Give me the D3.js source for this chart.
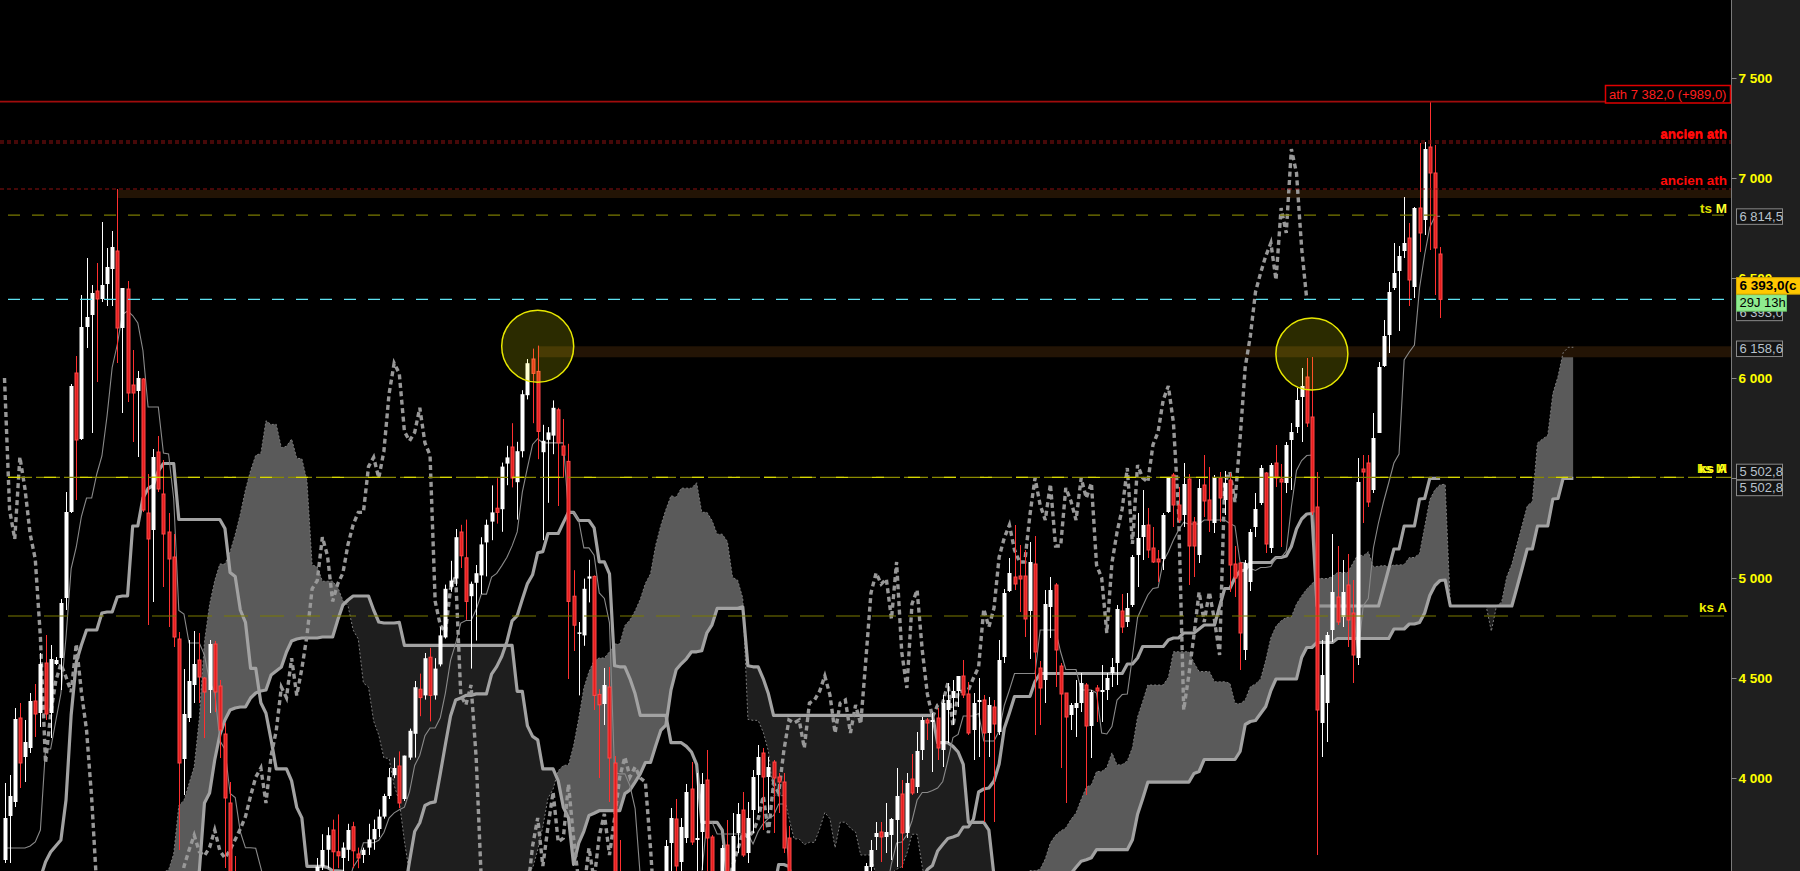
<!DOCTYPE html>
<html><head><meta charset="utf-8">
<script src="https://cdnjs.cloudflare.com/ajax/libs/d3/7.8.5/d3.min.js"></script>
<style>html,body{margin:0;padding:0;background:#000;overflow:hidden}svg{display:block}</style>
</head><body><svg id="c" width="1800" height="871"></svg>
<script>
// ---- DATA (monthly candles) ----
const opens=[3590,3810,3880,4300,4105,4150,4385,4325,4575,4325,
4570,4600,4900,5330,6025,5695,6255,6315,6435,6395,
6470,6545,6635,6250,6445,5965,5935,5995,5325,5240,
5630,5420,5230,5105,4695,4095,4300,4465,4590,4500,
4440,4670,4460,4220,3875,3450,3320,2780,3040,3270,
3060,2940,2900,2825,3045,2990,3085,3250,3310,3130,
3380,3390,3557,3641,3740,3631,3600,3641,3756,3620,
3615,3652,3693,3745,3807,3910,4014,4060,3895,4102,
4221,4444,4413,4604,4413,4568,4703,4956,4997,5230,
5101,4909,4976,5013,5178,5282,5349,5344,5572,5655,
5479,5634,5914,6095,6033,5629,5691,5712,5841,5660,
5583,4909,4723,4713,4997,5008,4418,4370,4455,4075,
3487,3262,3218,2962,2808,2807,3159,3278,3140,3430,
3675,3795,3580,3700,3945,3690,3730,3990,3705,3480,
3440,3665,3490,3725,3840,3625,3840,4015,4125,4005,
4080,4005,3980,3700,3256,2981,3242,3155,3160,3298,
3452,3424,3213,3017,3197,3291,3413,3355,3429,3555,
3705,3730,3705,3715,3790,3920,3725,3995,3955,4140,
4290,4280,4300,4140,4340,4400,4435,4510,4420,4240,
4380,4390,4225,4355,4230,4605,4935,5005,5010,5010,
4835,5070,4550,4490,4855,4965,4560,4425,4315,4350,
4375,4465,4260,4450,4430,4440,4525,4575,4835,4780,
4865,5115,5205,5265,5150,5095,5095,5330,5515,5365,
5315,5495,5280,5115,5465,5390,5275,5500,5390,5490,
5070,5075,4640,4980,5255,5375,5525,5150,5575,5495,
5475,5690,5755,5905,6005,5805,5355,4275,4375,4740,
4905,4805,4965,4825,4600,5545,5575,5440,5725,6060,
6215,6450,6535,6635,6700,6455,6850,6790,7155,7025,6620];
const highs=[3975,4015,4350,4375,4290,4425,4470,4625,4715,4665,
4605,4895,5430,5970,6110,6415,6600,6465,6575,6780,
6650,6735,6945,6450,6485,6140,6035,6000,5520,5645,
5710,5590,5325,5220,4730,4545,4690,4735,4725,4505,
4690,4685,4490,4275,3980,3610,3400,3150,3400,3300,
3250,3000,2940,3100,3120,3250,3270,3400,3470,3420,
3480,3600,3719,3754,3792,3818,3678,3771,3781,3652,
3652,3771,3792,3843,3921,4050,4102,4133,4112,4247,
4485,4522,4625,4651,4599,4754,4967,5086,5245,5266,
5292,4982,5065,5204,5292,5463,5499,5577,5661,5774,
5681,5939,6095,6147,6162,5766,5755,5888,5851,5795,
5671,5039,4780,4997,5091,5013,4444,4550,4555,4110,
3690,3400,3300,3100,2950,3200,3380,3400,3460,3690,
3850,3895,3800,3970,4080,4025,4025,4140,3715,3530,
3665,3790,3825,3875,3930,3880,4040,4165,4150,4105,
4090,4025,4025,3760,3300,3400,3280,3240,3380,3500,
3520,3450,3260,3230,3330,3470,3520,3510,3575,3690,
3780,3780,3875,3800,4050,3990,4025,4120,4230,4305,
4300,4325,4350,4415,4475,4490,4510,4590,4480,4425,
4500,4415,4405,4390,4690,4945,5100,5265,5165,5140,
5180,5210,4585,4940,5005,4975,4575,4425,4375,4490,
4525,4475,4440,4465,4565,4525,4600,4865,4920,4925,
5115,5325,5440,5350,5255,5140,5325,5505,5525,5455,
5575,5520,5305,5495,5615,5555,5515,5530,5535,5525,
5160,5080,5090,5245,5425,5565,5530,5575,5665,5570,
5680,5775,5950,6050,6100,6105,5530,4690,4730,5220,
5160,5090,5120,4990,5600,5615,5615,5825,6080,6290,
6480,6675,6660,6905,6775,6855,7175,7180,7382,7165,6655];
const lows=[3575,3575,3855,3950,3980,4125,4205,4255,4290,4200,
4565,4440,4840,5325,5390,5690,6150,5725,5980,6380,
6360,6360,6075,5825,5880,5680,5605,5330,4765,4880,
5430,4955,4755,4655,3640,3915,4280,4375,4375,4200,
4325,4330,4100,3550,3110,3070,2735,2612,2950,2980,
2890,2640,2381,2720,2920,2980,3030,3150,3100,3110,
3290,3370,3540,3549,3534,3549,3534,3585,3549,3549,
3575,3615,3641,3704,3797,3895,3999,3849,3885,4091,
4102,4309,4392,4283,4392,4558,4697,4931,4961,5050,
4791,4547,4687,4920,5008,5189,5272,5231,5464,5453,
5292,5603,5893,5774,5594,5189,5376,5619,5360,5500,
4495,4635,4413,4661,4878,4340,4000,4265,3880,2960,
2950,2990,2830,2680,2465,2700,3100,3040,2970,3420,
3530,3500,3500,3675,3665,3450,3540,3450,3420,3300,
3380,3430,3460,3625,3605,3575,3725,3825,3740,3825,
3725,3825,3625,2950,2693,2780,2800,2930,3090,3280,
3380,3150,2950,2920,3000,3270,3300,3310,3380,3450,
3640,3580,3625,3590,3555,3550,3700,3915,3925,4090,
4190,4030,4090,4055,4175,4265,4355,4400,4215,4090,
4105,3780,4105,3780,4215,4575,4930,4940,4830,4705,
4595,4215,4265,4375,4700,4455,4050,3875,4240,4205,
4330,3915,4100,4280,4280,4390,4455,4465,4725,4755,
4855,4955,5090,5100,5075,4980,5040,5325,5255,5275,
5255,4965,5005,5075,5305,5230,5225,5280,5315,4930,
4905,4540,4590,4935,5205,5365,5125,5125,5455,5155,
5425,5440,5725,5680,5755,5315,3615,4105,4180,4680,
4765,4755,4655,4475,4565,5275,5355,5425,5725,6055,
6125,6440,6235,6600,6360,6400,6630,6715,6640,6415,6300];
const closes=[3800,3910,4295,4075,4180,4385,4320,4570,4320,4595,
4590,4875,5330,5960,5690,6255,6305,6425,6395,6465,
6555,6655,6250,6450,5925,5925,6000,5340,5195,5605,
5445,5220,5095,4705,4075,4320,4485,4570,4505,4430,
4670,4430,4240,3900,3450,3320,2780,3040,3270,3060,
2940,2900,2825,3045,2990,3085,3250,3310,3130,3380,
3390,3557,3640,3714,3631,3611,3652,3740,3636,3600,
3641,3693,3745,3807,3910,4004,4050,3875,4112,4236,
4454,4402,4599,4413,4547,4713,4946,4987,5204,5111,
4883,4971,5024,5168,5266,5328,5328,5557,5603,5500,
5634,5919,6074,6023,5733,5686,5728,5851,5676,5614,
4883,4764,4728,4946,5008,4413,4366,4465,4100,3487,
3262,3218,2962,2808,2807,3159,3278,3140,3426,3660,
3800,3560,3755,3930,3680,3700,3970,3700,3480,3440,
3650,3490,3710,3820,3615,3800,4005,4105,4005,4055,
4000,3980,3650,3256,2981,3242,3155,3160,3298,3452,
3424,3213,3017,3197,3291,3413,3355,3429,3560,3640,
3725,3705,3730,3795,3910,3725,3975,3925,4135,4290,
4275,4290,4150,4375,4390,4435,4510,4415,4225,4375,
4390,4225,4365,4270,4590,4925,5025,4970,4995,4795,
5080,4630,4450,4870,4940,4640,4420,4305,4365,4375,
4475,4260,4430,4435,4440,4500,4555,4845,4755,4850,
5105,5200,5265,5140,5080,5080,5315,5500,5365,5290,
5470,5160,5160,5450,5385,5290,5500,5400,5475,5065,
5000,4725,5075,5230,5345,5550,5170,5565,5500,5480,
5665,5730,5890,5960,5775,5330,4340,4515,4715,4930,
4780,4930,4790,4615,5480,5530,5380,5700,6055,6210,
6430,6525,6610,6675,6490,6850,6725,7145,7025,6650,6393];
// indicator values at the left edge (their history lies before the visible window)
const tenkanStart=[3650,3650,3650,3650,3650,3660,3680,3740];
const kijunStart=[3400,3400,3400,3400,3400,3400,3400,3500,3580,3630,3660,3690,3890,4315,4580,4665,4740,4740,4740,4825,4830,4830,4905,4910,4910];
const senkouBStart=[3300,3300,3300,3300,3300,3300,3300,3300,3300,3300,3300,3300,
3535,3875,3925,4090,4215,4290,4340,4350,4355,4355,4400,4425,4435,4440,4515,4535,4555,4630,4685,4695,4700,4700,4700,4700,4705,4705,4705,4790,4865,4890,4910,4910,4910,4910,4840,4780,4775,4775,4775];
const tickValues=[4000,4500,5000,5500,6000,6500,7000,7500];
const athLevel=7382.0, athGain=989.0;
const ancienAth=[7185,7175,6945];
const tsM=6814.5, lastPrice=6393.0, zoneLevel=6158.6, ksLevel=5502.8, ksA2=4810;
const circleAt=[[104,6158.6],[255,6120]];
const SHIFT=26;

// ---- SCALES ----
const N=closes.length;
const STEP=5.127, X0=4.5;
const x=d3.scaleLinear().domain([0,N-1+SHIFT]).range([X0,X0+STEP*(N-1+SHIFT)]);
const y=d3.scaleLinear().domain([3535,7890]).range([871,0]);
const AX=1731.5;

function midHL(t,n){let H=-Infinity,L=Infinity;for(let k=Math.max(0,t-n+1);k<=t;k++){if(highs[k]>H)H=highs[k];if(lows[k]<L)L=lows[k];}return (H+L)/2;}
const tenkan=d3.range(N).map(t=>t<tenkanStart.length?tenkanStart[t]:midHL(t,9));
const kijun=d3.range(N).map(t=>t<kijunStart.length?kijunStart[t]:midHL(t,26));
const spanA=d3.range(N).map(t=>(tenkan[t]+kijun[t])/2);
const spanB=d3.range(N).map(t=>t<senkouBStart.length?senkouBStart[t]:midHL(t,52));

const svg=d3.select("#c");
const defs=svg.append("defs");
svg.append("rect").attr("width",1800).attr("height",871).attr("fill","#000");
svg.append("rect").attr("x",AX).attr("width",1800-AX).attr("height",871).attr("fill","#1f1f1f");
defs.append("clipPath").attr("id","plotClip").append("rect").attr("x",0).attr("y",0).attr("width",AX).attr("height",871);

const areaTop=d3.area().x((d,t)=>x(t+SHIFT)).y0(-10).y1(d=>y(d));
const areaBot=d3.area().x((d,t)=>x(t+SHIFT)).y0(900).y1(d=>y(d));
defs.append("clipPath").attr("id","aboveB").append("path").attr("d",areaTop(spanB));
defs.append("clipPath").attr("id","aboveA").append("path").attr("d",areaTop(spanA));

const plot=svg.append("g").attr("clip-path","url(#plotClip)");
// cloud
plot.append("g").attr("clip-path","url(#aboveB)").append("path").attr("d",areaBot(spanA)).attr("fill","#5a5a5a");
plot.append("g").attr("clip-path","url(#aboveA)").append("path").attr("d",areaBot(spanB)).attr("fill","#1e1e1e");

// zones (bands)
plot.append("rect").attr("x",x(22)).attr("y",y(ancienAth[2])+1).attr("width",AX-x(22)).attr("height",8).attr("fill","#231405");
plot.append("rect").attr("x",x(104)).attr("y",y(zoneLevel)).attr("width",AX-x(104)).attr("height",11).attr("fill","#231405");

// indicator lines
const lineShift=d3.line().x((d,t)=>x(t+SHIFT)).y(d=>y(d));
const lineT=d3.line().x((d,t)=>x(t)).y(d=>y(d));
plot.append("path").attr("d",lineShift(spanA)).attr("fill","none").attr("stroke","#7c7c7c").attr("stroke-width",1).attr("stroke-dasharray","2,2");
plot.append("path").attr("d",lineShift(spanB)).attr("fill","none").attr("stroke","#a2a2a2").attr("stroke-width",3.2).attr("stroke-linejoin","round");
plot.append("path").attr("d",lineT(kijun)).attr("fill","none").attr("stroke","#a2a2a2").attr("stroke-width",3.2).attr("stroke-linejoin","round");
plot.append("path").attr("d",lineT(tenkan)).attr("fill","none").attr("stroke","#8a8a8a").attr("stroke-width",1.1);
const chik=d3.range(SHIFT,N).map(t=>[t-SHIFT,closes[t]]);
plot.append("path").attr("d",d3.line().x(d=>x(d[0])).y(d=>y(d[1]))(chik)).attr("fill","none").attr("stroke","#989898").attr("stroke-width",3.4).attr("stroke-dasharray","5,3.5");

// candles
const cg=plot.append("g");
d3.range(N).forEach(i=>{
  const up=closes[i]>=opens[i];
  const cx=Math.round(x(i))+0.5;
  const col=up?"#ffffff":"#ff3030";
  cg.append("line").attr("x1",cx).attr("x2",cx).attr("y1",y(highs[i])).attr("y2",y(lows[i])).attr("stroke",col).attr("stroke-width",1);
  const top=y(Math.max(opens[i],closes[i])), bot=y(Math.min(opens[i],closes[i]));
  const h=Math.max(1.5,bot-top);
  if(up) cg.append("rect").attr("x",cx-2).attr("y",top).attr("width",4).attr("height",h).attr("fill","#ffffff");
  else cg.append("rect").attr("x",cx-1.5).attr("y",top).attr("width",3).attr("height",h).attr("fill","#e41e1e").attr("stroke","#ff4b4b").attr("stroke-width",1);
});

// horizontal levels
function hline(v,col,dash,w,x1){plot.append("line").attr("x1",x1===undefined?8:x1).attr("x2",AX).attr("y1",y(v)).attr("y2",y(v)).attr("stroke",col).attr("stroke-width",w).attr("stroke-dasharray",dash);}
plot.append("line").attr("x1",0).attr("x2",1605).attr("y1",y(athLevel)).attr("y2",y(athLevel)).attr("stroke","#a00c0c").attr("stroke-width",1.8);
hline(ancienAth[0],"#8c1010","4,3",1,0);
hline(ancienAth[1],"#8c1010","4,3",1,0);
hline(ancienAth[2],"#8c1010","4,3",1,0);
hline(tsM,"#7a7a00","12,12",1.2);
hline(lastPrice,"#5ee0f0","12,12",1.3);
hline(ksLevel,"#8a8a00","24,4",1.3);
hline(ksLevel,"#d8d800","12,24",1.3);
hline(ksA2,"#7a7a00","24,12",1.2);

// circles
circleAt.forEach(c=>{plot.append("circle").attr("cx",x(c[0])).attr("cy",y(c[1])).attr("r",36).attr("fill","rgba(255,255,0,0.17)").attr("stroke","#e8e800").attr("stroke-width",1.5);});

// right axis
svg.append("line").attr("x1",AX).attr("x2",AX).attr("y1",0).attr("y2",871).attr("stroke","#7a7a7a").attr("stroke-width",1);
const fmt=d=>d3.format(",")(d).replace(/,/g," ");
const FONT="'Liberation Sans',Arial,sans-serif";
const ax=svg.append("g").attr("transform",`translate(${AX},0)`).call(d3.axisRight(y).tickValues(tickValues).tickSize(5).tickPadding(2).tickFormat(fmt));
ax.select(".domain").remove();
ax.selectAll(".tick line").attr("stroke","#8a8a8a");
ax.selectAll(".tick text").attr("fill","#ffff00").attr("font-family",FONT).attr("font-size","13.5px").attr("font-weight","bold");

function box(x0,yc,w,h,txt,bg,st,col,wt,fs){
  const g=svg.append("g");
  g.append("rect").attr("x",x0+0.5).attr("y",yc-h/2+0.5).attr("width",w).attr("height",h).attr("fill",bg).attr("stroke",st).attr("stroke-width",1);
  g.append("text").attr("x",x0+3.5).attr("y",yc+5).attr("fill",col).attr("font-family",FONT).attr("font-size",fs||"13px").attr("font-weight",wt||"normal").text(txt);
}
const num=v=>d3.format(",.1f")(v).replace(/,/g," ").replace(".",",");
box(1736,y(tsM)+1,46,15.5,num(tsM),"#141414","#8a8a8a","#b8c2cc");
box(1736,y(zoneLevel)+2,46,15.5,num(zoneLevel),"#141414","#8a8a8a","#b8c2cc");
box(1736,y(ksLevel)-6,46,15.5,num(ksLevel),"#141414","#8a8a8a","#b8c2cc");
box(1736,y(ksLevel)+10,46,15.5,num(ksLevel),"#141414","#8a8a8a","#b8c2cc");
box(1736,y(lastPrice)+13,46,15.5,num(lastPrice),"#141414","#8a8a8a","#b8c2cc");
box(1736,y(lastPrice)+3,50,16.5,"29J 13h","#8fec8f","#6cc86c","#000","normal","13px");
box(1736,y(lastPrice)-14,70,16.5,num(lastPrice)+"(c","#ffc800","#d8a800","#000","bold","13.5px");

// ath box
svg.append("rect").attr("x",1605.5).attr("y",85.5).attr("width",125).attr("height",17.5).attr("fill","#000").attr("stroke","#e00000").attr("stroke-width",1.5);
svg.append("text").attr("x",1609).attr("y",99).attr("fill","#ff1e1e").attr("font-family",FONT).attr("font-size","13px")
  .text("ath "+num(athLevel)+" (+"+num(athGain)+")");

// level texts
function ltxt(t,yy,col){svg.append("text").attr("x",1727).attr("y",yy).attr("text-anchor","end").attr("fill",col).attr("font-family",FONT).attr("font-size","13.5px").attr("font-weight","bold").text(t);}
ltxt("ancien ath",y(ancienAth[0])-3.5,"#ff0a0a");
ltxt("ancien ath",y(ancienAth[1])-4.5,"#ff0a0a");
ltxt("ancien ath",y(ancienAth[2])-4,"#ff0a0a");
const tsT=svg.append("text").attr("x",1727).attr("y",y(tsM)-2).attr("text-anchor","end").attr("font-family",FONT).attr("font-size","13.5px").attr("font-weight","bold");
tsT.append("tspan").attr("fill","#e0e000").text("ts ");tsT.append("tspan").attr("fill","#ffff30").text("M");
ltxt("ks M",y(ksLevel)-4.5,"#e8e800");
ltxt("ks A",y(ksLevel)-4.5,"#ffff20");
ltxt("ks A",y(ksA2)-4,"#f0f000");
</script></body></html>
